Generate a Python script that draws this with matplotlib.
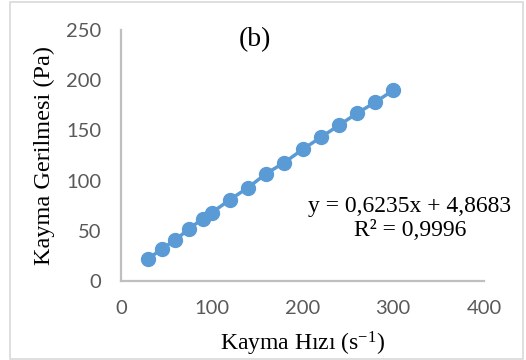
import matplotlib
matplotlib.use("Agg")
import matplotlib.pyplot as plt
from matplotlib.patches import Rectangle

shear_rate = [30, 45, 60, 75, 90, 100, 120, 140, 160, 180, 200, 220, 240, 260, 280, 300]
shear_stress = [22, 32, 41, 52, 62, 68, 81, 93, 107, 118, 131, 143, 155, 167, 178, 190]
x_ticks = [0, 100, 200, 300, 400]
y_ticks = [0, 50, 100, 150, 200, 250]
equation = "y = 0,6235x + 4,8683\nR² = 0,9996"

plt.rcParams['mathtext.fontset'] = 'custom'
plt.rcParams['mathtext.rm'] = 'Liberation Serif'
plt.rcParams['mathtext.it'] = 'Liberation Serif:italic'

fig = plt.figure(figsize=(5.26, 3.6), dpi=100)
fig.patches.append(Rectangle((10/526, 1/360), 513/526, 357/360, transform=fig.transFigure,
                             fill=False, edgecolor='#d9d9d9', linewidth=1.2))
ax = fig.add_axes([121/526, 1-281/360, 363/526, 251/360])

ax.plot(shear_rate, shear_stress, color='#5b9bd5', linewidth=2.5, marker='o',
        markersize=10, zorder=3)

ax.set_xlim(0, 400)
ax.set_ylim(0, 250)
ax.set_xticks(x_ticks)
ax.set_yticks(y_ticks)
ax.tick_params(length=0, pad=14, labelsize=14.5, labelcolor='#595959')
for lab in ax.get_xticklabels() + ax.get_yticklabels():
    lab.set_fontfamily('Lato')

for s in ['top', 'right']:
    ax.spines[s].set_visible(False)
for s in ['left', 'bottom']:
    ax.spines[s].set_color('#bfbfbf')
    ax.spines[s].set_linewidth(1.6)

ax.set_xlabel(r"Kayma Hızı (s$^{\mathrm{-1}}$)", fontfamily='Liberation Serif', fontsize=17,
              color='black', labelpad=9)
ax.set_ylabel("Kayma Gerilmesi (Pa)", fontfamily='Liberation Serif', fontsize=17.5,
              color='black', labelpad=8)

ax.text(147.7, 240, "(b)", fontfamily='Liberation Serif', fontsize=20, ha='center', va='center')
ax.text(318.5, 62, equation, fontfamily='Liberation Serif', fontsize=17,
        ha='center', va='center', linespacing=1.2, multialignment='center')

fig.savefig("out.png", dpi=100)
